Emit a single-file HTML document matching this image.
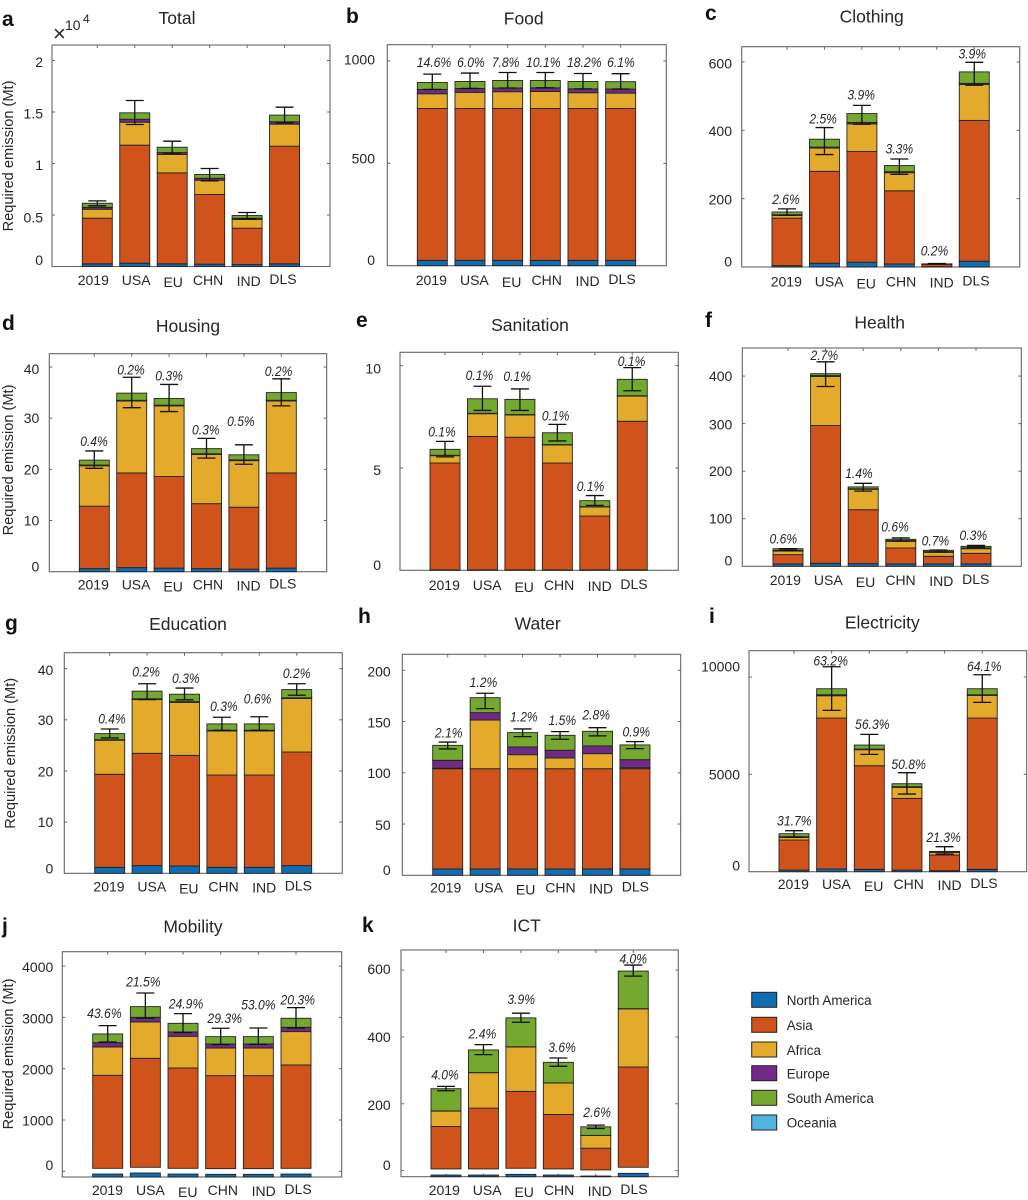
<!DOCTYPE html>
<html lang="en">
<head>
<meta charset="utf-8">
<title>Required emission by need and scenario</title>
<style>
html,body{margin:0;padding:0;background:#fff;}
svg{display:block;font-family:"Liberation Sans",Arial,sans-serif;}
text{fill:#262626;}
</style>
</head>
<body>
<svg id="chart" xmlns="http://www.w3.org/2000/svg" width="1028" height="1200" viewBox="0 0 1028 1200">
  <rect x="0" y="0" width="1028" height="1200" fill="#ffffff"/>
  <g>
    <text x="53" y="41" font-size="22">×</text>
    <text x="65" y="30" font-size="14">10</text>
    <text x="83" y="23" font-size="12">4</text>
  </g>
  <g>
    <g><rect x="751.7" y="992.3" width="25" height="15" fill="#0f6db3" stroke="#222" stroke-width="1"/><text x="786.7" y="1005" font-size="13.4">North America</text></g>
    <g><rect x="751.7" y="1017.3" width="25" height="15" fill="#d0531c" stroke="#222" stroke-width="1"/><text x="786.7" y="1030" font-size="13.4">Asia</text></g>
    <g><rect x="751.7" y="1042" width="25" height="15" fill="#e3aa2b" stroke="#222" stroke-width="1"/><text x="786.7" y="1055" font-size="13.4">Africa</text></g>
    <g><rect x="751.7" y="1065.7" width="25" height="15" fill="#722a88" stroke="#222" stroke-width="1"/><text x="786.7" y="1078.5" font-size="13.4">Europe</text></g>
    <g><rect x="751.7" y="1090.3" width="25" height="15" fill="#74a82e" stroke="#222" stroke-width="1"/><text x="786.7" y="1103" font-size="13.4">South America</text></g>
    <g><rect x="751.7" y="1115" width="25" height="15" fill="#4fb4e0" stroke="#222" stroke-width="1"/><text x="786.7" y="1127.5" font-size="13.4">Oceania</text></g>
  </g>
</svg>
<script>
const categories = ['2019', 'USA', 'EU', 'CHN', 'IND', 'DLS'];
const seriesNames = ['north-america', 'asia', 'africa', 'europe', 'south-america', 'oceania'];

const oceania = [0, 0, 0, 0, 0, 0];

const totalNorthAmerica = [260, 320, 260, 230, 190, 260];
const totalAsia = [4430, 11460, 8830, 6760, 3530, 11420];
const totalAfrica = [870, 2230, 1780, 1390, 840, 2140];
const totalEurope = [190, 290, 190, 190, 130, 230];
const totalSouthAmerica = [390, 620, 520, 360, 260, 650];
const totalHigh = [6375, 16115, 12167, 9514, 5242, 15468];
const totalLow = [5890, 13785, 11002, 8316, 4627, 13947];
const totalTicks = [0, 5000, 10000, 15000, 20000];
const totalTickLabels = ['0', '0.5', '1', '1.5', '2'];

const foodNorthAmerica = [26, 26, 26, 26, 26, 26];
const foodAsia = [742, 742, 742, 742, 742, 742];
const foodAfrica = [72, 79, 82, 83, 77, 75];
const foodEurope = [21, 19, 18, 18, 19, 20];
const foodSouthAmerica = [34, 34, 37, 36, 36, 36];
const foodHigh = [936, 941, 944, 944, 939, 938];
const foodLow = [861, 866, 868, 869, 864, 863];
const foodPercent = [14.6, 6.0, 7.8, 10.1, 18.2, 6.1];
const foodTicks = [0, 500, 1000];
const foodTickLabels = ['0', '500', '1000'];

const clothingNorthAmerica = [4, 11, 14, 9, 1, 17];
const clothingAsia = [139, 269, 324, 214, 7, 412];
const clothingAfrica = [8, 68, 81, 53, 0.5, 105];
const clothingEurope = [2, 3, 4, 3, 0.2, 3.5];
const clothingSouthAmerica = [8, 23, 26, 18, 0.5, 33.5];
const clothingHigh = [170, 408, 473, 316, 10, 599];
const clothingLow = [151, 329, 418, 271, 9, 532];
const clothingPercent = [2.6, 2.5, 3.9, 3.3, 0.2, 3.9];
const clothingTicks = [0, 200, 400, 600];
const clothingTickLabels = ['0', '200', '400', '600'];

const housingNorthAmerica = [0.6, 0.8, 0.7, 0.6, 0.5, 0.7];
const housingAsia = [12.2, 18.5, 17.9, 12.7, 12.1, 18.6];
const housingAfrica = [7.9, 14.05, 13.8, 9.6, 9.1, 14.05];
const housingEurope = [0.15, 0.15, 0.15, 0.15, 0.15, 0.15];
const housingSouthAmerica = [0.95, 1.4, 1.3, 1.0, 1.0, 1.5];
const housingHigh = [23.6, 38, 36.6, 26.05, 24.8, 37.7];
const housingLow = [20.2, 32.05, 31.3, 22.2, 21, 32.4];
const housingPercent = [0.4, 0.2, 0.3, 0.3, 0.5, 0.2];
const housingTicks = [0, 10, 20, 30, 40];
const housingTickLabels = ['0', '10', '20', '30', '40'];

const sanitationNorthAmerica = [0.02, 0.02, 0.02, 0.02, 0.02, 0.02];
const sanitationAsia = [5.22, 6.52, 6.48, 5.22, 2.63, 7.26];
const sanitationAfrica = [0.36, 1.11, 1.09, 0.88, 0.44, 1.23];
const sanitationEurope = [0.02, 0.02, 0.02, 0.02, 0.02, 0.02];
const sanitationSouthAmerica = [0.29, 0.71, 0.74, 0.58, 0.29, 0.8];
const sanitationHigh = [6.3, 8.99, 8.86, 7.13, 3.65, 9.9];
const sanitationLow = [5.54, 7.81, 7.81, 6.32, 3.17, 8.77];
const sanitationPercent = [0.1, 0.1, 0.1, 0.1, 0.1, 0.1];
const sanitationTicks = [0, 5, 10];
const sanitationTickLabels = ['0', '5', '10'];

const healthNorthAmerica = [5, 6.3, 5.6, 5, 5, 5];
const healthAsia = [19.5, 289.7, 113.4, 33.5, 16, 22.3];
const healthAfrica = [7.5, 103, 43, 14.1, 8.4, 9.7];
const healthEurope = [1.6, 2, 1, 1.4, 1.4, 1.5];
const healthSouthAmerica = [3.4, 4, 4, 2.8, 2.8, 3.5];
const healthHigh = [37, 430, 174.5, 59.6, 34.3, 44];
const healthLow = [33.6, 378, 158, 53, 30, 40];
const healthPercent = [0.6, 2.7, 1.4, 0.6, 0.7, 0.3];
const healthTicks = [0, 100, 200, 300, 400];
const healthTickLabels = ['0', '100', '200', '300', '400'];

const educationNorthAmerica = [1.17, 1.5, 1.43, 1.17, 1.17, 1.5];
const educationAsia = [18.18, 21.95, 21.62, 18.03, 18.03, 22.2];
const educationAfrica = [6.65, 10.5, 10.35, 8.6, 8.6, 10.45];
const educationEurope = [0.1, 0.15, 0.15, 0.15, 0.15, 0.15];
const educationSouthAmerica = [1.2, 1.5, 1.45, 1.25, 1.25, 1.6];
const educationHigh = [28.2, 37.05, 36.2, 30.5, 30.6, 37.05];
const educationLow = [26.45, 33.95, 33.9, 27.95, 27.95, 34.8];
const educationPercent = [0.4, 0.2, 0.3, 0.3, 0.6, 0.2];
const educationTicks = [0, 10, 20, 30, 40];
const educationTickLabels = ['0', '10', '20', '30', '40'];

const waterNorthAmerica = [6.2, 6.2, 6.2, 6.2, 6.2, 6.2];
const waterAsia = [97.8, 97.8, 97.8, 97.8, 97.8, 97.8];
const waterAfrica = [0.5, 47.5, 13.7, 10.5, 14.7, 1];
const waterEurope = [7.7, 7.2, 7.5, 7.5, 7.5, 7.8];
const waterSouthAmerica = [14.6, 14.6, 14, 14.6, 14.3, 14.4];
const waterHigh = [130, 177.6, 142.8, 140.2, 144, 130.4];
const waterLow = [123.3, 162.6, 135.3, 132.7, 136, 123.6];
const waterPercent = [2.1, 1.2, 1.2, 1.5, 2.8, 0.9];
const waterTicks = [0, 50, 100, 150, 200];
const waterTickLabels = ['0', '50', '100', '150', '200'];

const electricityNorthAmerica = [86, 137, 120, 86, 51, 120];
const electricityAsia = [1540, 7755, 5324, 3680, 805, 7772];
const electricityAfrica = [137, 1147, 822, 565, 137, 1164];
const electricityEurope = [35, 51, 34, 35, 34, 34];
const electricitySouthAmerica = [154, 309, 206, 154, 17, 309];
const electricityHigh = [2106, 10529, 7053, 5085, 1284, 10118];
const electricityLow = [1780, 8286, 6026, 3989, 907, 8697];
const electricityPercent = [31.7, 63.2, 56.3, 50.8, 21.3, 64.1];
const electricityTicks = [0, 5000, 10000];
const electricityTickLabels = ['0', '5000', '10000'];

const mobilityNorthAmerica = [58, 78, 58, 52, 52, 58];
const mobilityAsia = [1813, 2125, 1956, 1813, 1813, 2015];
const mobilityAfrica = [553, 708, 618, 539, 539, 650];
const mobilityEurope = [84, 91, 84, 78, 78, 84];
const mobilitySouthAmerica = [169, 208, 169, 143, 143, 176];
const mobilityHigh = [2840, 3476, 3074, 2788, 2794, 3190];
const mobilityLow = [2521, 2983, 2703, 2469, 2475, 2794];
const mobilityPercent = [43.6, 21.5, 24.9, 29.3, 53.0, 20.3];
const mobilityTicks = [0, 1000, 2000, 3000, 4000];
const mobilityTickLabels = ['0', '1000', '2000', '3000', '4000'];

const ictNorthAmerica = [5, 5, 7, 5, 2, 10];
const ictAsia = [127, 182, 230, 163, 65, 300];
const ictAfrica = [46, 106, 133, 94, 38, 174];
const ictEurope = [0.5, 0.5, 0.5, 0.5, 0.5, 0.5];
const ictSouthAmerica = [66.5, 67.5, 86.5, 61.5, 25.5, 112.5];
const ictHigh = [252, 377, 471, 337, 136, 615];
const ictLow = [239, 347, 444, 312, 126, 582];
const ictPercent = [4.0, 2.4, 3.9, 3.6, 2.6, 4.0];
const ictTicks = [0, 200, 400, 600];
const ictTickLabels = ['0', '200', '400', '600'];

/* ---------- layout and styling, separate from the data above ---------- */
const seriesColors = ['#0f6db3', '#d0531c', '#e3aa2b', '#722a88', '#74a82e', '#4fb4e0'];
const EDGE = '#222222';
const AXIS = '#666666';
const BAR_WIDTH = 30;
const CAP_HALF = 9;
const catNudgeX = [-4, 1.4, 1, -1.6, 1.6, -1.6];
const catNudgeY = [0, 0, 2, 0, 1, -1];

const panels = [
  { id: 'total', title: 'Total', letter: 'a', letterX: 2, letterY: 26, titleX: 177, titleY: 24,
    box: [52, 330, 45, 266.5], y0: 266.5, scale: 0.0103, c0: 97.3, dc: 37.45, catShift: 0, catGap: 13.4,
    tickRight: 43, tickDy: [-6.7, 2.3, 1.7, 1.7, 1.7],
    series: [totalNorthAmerica, totalAsia, totalAfrica, totalEurope, totalSouthAmerica, oceania],
    high: totalHigh, low: totalLow, percent: null, ticks: totalTicks, tickLabels: totalTickLabels,
    yTitle: [8, 156] },
  { id: 'food', title: 'Food', letter: 'b', letterX: 346, letterY: 23, titleX: 523.7, titleY: 24.7,
    box: [387.3, 666.3, 44.7, 265.7], y0: 265.7, scale: 0.2047, c0: 432.3, dc: 37.67, catShift: 3, catGap: 14.3,
    tickRight: 375, tickDy: [-5.7, -5, -1.7],
    series: [foodNorthAmerica, foodAsia, foodAfrica, foodEurope, foodSouthAmerica, oceania],
    high: foodHigh, low: foodLow, percent: foodPercent, ticks: foodTicks, tickLabels: foodTickLabels,
    pctDx: [1.7, 1, -2, -2, 1.3, 0.3], pctLift: [12, 11, 10.3, 10.3, 11.3, 11.7] },
  { id: 'clothing', title: 'Clothing', letter: 'c', letterX: 705, letterY: 20, titleX: 871.7, titleY: 22.7,
    box: [741.7, 1019.7, 46.7, 267], y0: 267, scale: 0.3417, c0: 787, dc: 37.45, catShift: 3.3, catGap: 14.7,
    tickRight: 732, tickDy: [-5.3, 0.7, 0.7, 1.3],
    series: [clothingNorthAmerica, clothingAsia, clothingAfrica, clothingEurope, clothingSouthAmerica, oceania],
    high: clothingHigh, low: clothingLow, percent: clothingPercent, ticks: clothingTicks, tickLabels: clothingTickLabels,
    pctDx: [-1, -1.3, -0.7, 0, -2.3, -2], pctLift: [10, 9.3, 11, 10.7, 13, 9] },
  { id: 'housing', title: 'Housing', letter: 'd', letterX: 2, letterY: 330, titleX: 188, titleY: 332,
    box: [49.3, 326.7, 353.7, 571.7], y0: 571.7, scale: 5.117, c0: 94.3, dc: 37.4, catShift: 3, catGap: 12.7,
    tickRight: 39.3, tickDy: [-5, 0, 0, 0, 2],
    series: [housingNorthAmerica, housingAsia, housingAfrica, housingEurope, housingSouthAmerica, oceania],
    high: housingHigh, low: housingLow, percent: housingPercent, ticks: housingTicks, tickLabels: housingTickLabels,
    pctDx: [-0.3, -0.7, 0, -0.7, -3, -2.7], pctLift: [10, 8, 9, 8.7, 23.7, 8],
    yTitle: [8, 460] },
  { id: 'sanitation', title: 'Sanitation', letter: 'e', letterX: 356, letterY: 327, titleX: 530, titleY: 331,
    box: [400, 678.3, 352.3, 570.3], y0: 570.3, scale: 20.47, c0: 445, dc: 37.45, catShift: 3.3, catGap: 14.7,
    tickRight: 381, tickDy: [-5.3, 2, 2.7],
    series: [sanitationNorthAmerica, sanitationAsia, sanitationAfrica, sanitationEurope, sanitationSouthAmerica, oceania],
    high: sanitationHigh, low: sanitationLow, percent: sanitationPercent, ticks: sanitationTicks, tickLabels: sanitationTickLabels,
    pctDx: [-3, -3, -2.7, -1.7, -4.3, -0.7], pctLift: [9.7, 11.3, 12.7, 8.7, 9.7, 6.7] },
  { id: 'health', title: 'Health', letter: 'f', letterX: 705, letterY: 327, titleX: 879.7, titleY: 328.3,
    box: [742.3, 1021.3, 348, 566.3], y0: 566.3, scale: 0.4756, c0: 788, dc: 37.6, catShift: 1.3, catGap: 13.7,
    tickRight: 732.3, tickDy: [-5.7, 0, 0, 0.7, 0],
    series: [healthNorthAmerica, healthAsia, healthAfrica, healthEurope, healthSouthAmerica, oceania],
    high: healthHigh, low: healthLow, percent: healthPercent, ticks: healthTicks, tickLabels: healthTickLabels,
    pctDx: [-4.7, -1.3, -4.3, -5.7, -3, -2.7], pctLift: [10.3, 6.7, 10.3, 11.3, 9.7, 10.3] },
  { id: 'education', title: 'Education', letter: 'g', letterX: 5, letterY: 630, titleX: 188, titleY: 630,
    box: [64.3, 342.3, 652.7, 873.3], y0: 873.3, scale: 5.117, c0: 109.7, dc: 37.4, catShift: 3.3, catGap: 13.3,
    tickRight: 53.3, tickDy: [-5, 0, 0.7, 0, 1.3],
    series: [educationNorthAmerica, educationAsia, educationAfrica, educationEurope, educationSouthAmerica, oceania],
    high: educationHigh, low: educationLow, percent: educationPercent, ticks: educationTicks, tickLabels: educationTickLabels,
    pctDx: [2.3, -1, 1.3, 2, -1.7, 0], pctLift: [10.7, 12, 10.3, 11.3, 18.3, 10.7],
    yTitle: [10, 753.3] },
  { id: 'water', title: 'Water', letter: 'h', letterX: 358, letterY: 623, titleX: 537.7, titleY: 629.3,
    box: [402.3, 680.7, 654.3, 875.3], y0: 875.3, scale: 1.025, c0: 447.7, dc: 37.45, catShift: 2, catGap: 12.3,
    tickRight: 390.7, tickDy: [-5.3, 0.7, 0.3, 0.7, 1.3],
    series: [waterNorthAmerica, waterAsia, waterAfrica, waterEurope, waterSouthAmerica, oceania],
    high: waterHigh, low: waterLow, percent: waterPercent, ticks: waterTicks, tickLabels: waterTickLabels,
    pctDx: [1, -1.7, 1.3, 2.3, -1.3, 1.3], pctLift: [9.7, 11.3, 12.3, 11.7, 13, 10.3] },
  { id: 'electricity', title: 'Electricity', letter: 'i', letterX: 709, letterY: 623, titleX: 882.3, titleY: 628.3,
    box: [749, 1026.7, 650.7, 871.7], y0: 871.7, scale: 0.019467, c0: 794, dc: 37.65, catShift: 3.3, catGap: 12.3,
    tickRight: 740, tickDy: [-6, 0, -10.3],
    series: [electricityNorthAmerica, electricityAsia, electricityAfrica, electricityEurope, electricitySouthAmerica, oceania],
    high: electricityHigh, low: electricityLow, percent: electricityPercent, ticks: electricityTicks, tickLabels: electricityTickLabels,
    pctDx: [0.3, -1, 3, 1.7, -1, 2], pctLift: [10, 6, 10.3, 8.7, 9.7, 8.7] },
  { id: 'mobility', title: 'Mobility', letter: 'j', letterX: 2, letterY: 933, titleX: 193, titleY: 932.7,
    box: [62.3, 341.7, 951.7, 1177], y0: 1171.3, scale: 0.0513, c0: 107.7, dc: 37.66, catShift: 3.7, catGap: 13, broken: true,
    tickRight: 53.3, tickDy: [-6.3, 0.7, 0.7, 1, 0.7],
    series: [mobilityNorthAmerica, mobilityAsia, mobilityAfrica, mobilityEurope, mobilitySouthAmerica, oceania],
    high: mobilityHigh, low: mobilityLow, percent: mobilityPercent, ticks: mobilityTicks, tickLabels: mobilityTickLabels,
    pctDx: [-3.3, -2, 3, 4, 0, 1.7], pctLift: [12.7, 11.3, 10, 10.3, 23.3, 8.3],
    yTitle: [8, 1054] },
  { id: 'ict', title: 'ICT', letter: 'k', letterX: 362, letterY: 932, titleX: 526.7, titleY: 931.7,
    box: [401, 678.3, 950, 1176.7], y0: 1170.6, scale: 0.3342, c0: 446, dc: 37.45, catShift: 2.3, catGap: 13.3, broken: true,
    tickRight: 390.7, tickDy: [-5.7, 1.3, 0, -1],
    series: [ictNorthAmerica, ictAsia, ictAfrica, ictEurope, ictSouthAmerica, oceania],
    high: ictHigh, low: ictLow, percent: ictPercent, ticks: ictTicks, tickLabels: ictTickLabels,
    pctDx: [-1, -1, 0.3, 3.7, 1.3, 0], pctLift: [11.7, 11, 14.3, 11, 13, 6.7] }
];

const NS = 'http://www.w3.org/2000/svg';
const root = document.getElementById('chart');

function addText(parent, name, str, x, y, size, anchor) {
  const el = document.createElementNS(NS, 'text');
  
  
  el.setAttribute('x', x);
  el.setAttribute('y', y);
  el.setAttribute('font-size', size);
  if (anchor) el.setAttribute('text-anchor', anchor);
  el.textContent = str;
  parent.appendChild(el);
  return el;
}

function addLine(parent, name, x1, y1, x2, y2, color, width) {
  const el = document.createElementNS(NS, 'line');
  
  
  el.setAttribute('x1', x1);
  el.setAttribute('y1', y1);
  el.setAttribute('x2', x2);
  el.setAttribute('y2', y2);
  el.setAttribute('stroke', color);
  el.setAttribute('stroke-width', width);
  parent.appendChild(el);
  return el;
}

function drawPanel(p) {
  const g = document.createElementNS(NS, 'g');
  
  
  root.appendChild(g);

  const left = p.box[0], right = p.box[1], top = p.box[2], bottom = p.box[3];
  const yScale = v => p.y0 - v * p.scale;
  const xScale = i => p.c0 + i * p.dc;

  const letter = addText(g, 'panel-letter-' + p.letter, p.letter, p.letterX, p.letterY, 21);
  letter.setAttribute('font-weight', 'bold');
  letter.style.fill = '#111';
  addText(g, 'panel-title-' + p.id, p.title, p.titleX, p.titleY, 17.5, 'middle');

  const frame = document.createElementNS(NS, 'rect');
  
  
  frame.setAttribute('x', left);
  frame.setAttribute('y', top);
  frame.setAttribute('width', right - left);
  frame.setAttribute('height', bottom - top);
  frame.setAttribute('fill', 'none');
  frame.setAttribute('stroke', AXIS);
  frame.setAttribute('stroke-width', 1.1);
  g.appendChild(frame);

  p.ticks.forEach((t, k) => {
    const y = yScale(t);
    if (y > top && y < bottom - 1) {
      addLine(g, 'y-tick-left-' + p.id, left, y, left + 3, y, AXIS, 1);
      addLine(g, 'y-tick-right-' + p.id, right - 3, y, right, y, AXIS, 1);
    }
    addText(g, 'y-tick-label-' + p.id, p.tickLabels[k], p.tickRight, y + p.tickDy[k] + 5, 14, 'end');
  });

  categories.forEach((cat, i) => {
    const cx = xScale(i);
    addLine(g, 'x-tick-top-' + p.id, cx, top, cx, top + 3, AXIS, 1);
    addLine(g, 'x-tick-bottom-' + p.id, cx, bottom - 3, cx, bottom, AXIS, 1);

    let cumulative = 0;
    p.series.forEach((values, s) => {
      const v = values[i];
      const base = cumulative;
      cumulative += v;
      if (!(v > 0)) return;
      const rect = document.createElementNS(NS, 'rect');
      
      
      rect.setAttribute('x', cx - BAR_WIDTH / 2);
      let yTop = yScale(cumulative);
      let h = v * p.scale;
      if (p.broken && s === 0) {
        /* axis break: the first segment sits on the axis line, below a white gap */
        yTop = bottom - h;
      }
      rect.setAttribute('y', yTop);
      rect.setAttribute('width', BAR_WIDTH);
      rect.setAttribute('height', h);
      rect.setAttribute('fill', seriesColors[s]);
      rect.setAttribute('stroke', EDGE);
      rect.setAttribute('stroke-width', 0.9);
      g.appendChild(rect);
    });

    const hi = yScale(p.high[i]);
    const lo = yScale(p.low[i]);
    addLine(g, 'error-bar-stem-' + p.id, cx, hi, cx, lo, '#111', 1.3);
    addLine(g, 'error-bar-cap-high-' + p.id, cx - CAP_HALF, hi, cx + CAP_HALF, hi, '#111', 1.3);
    addLine(g, 'error-bar-cap-low-' + p.id, cx - CAP_HALF, lo, cx + CAP_HALF, lo, '#111', 1.3);

    if (p.percent) {
      const label = p.percent[i].toFixed(1) + '%';
      const t = addText(g, 'percent-label-' + p.id, label, cx + p.pctDx[i], hi - p.pctLift[i] + 5, 14, 'middle');
      t.setAttribute('font-style', 'italic');
      t.setAttribute('textLength', label.length * 6.9);
      t.setAttribute('lengthAdjust', 'spacingAndGlyphs');
    }

    addText(g, 'x-tick-label-' + p.id, cat, cx + catNudgeX[i] + p.catShift, bottom + p.catGap + catNudgeY[i] + 5, 14, 'middle');
  });

  if (p.yTitle) {
    const yt = addText(g, 'y-axis-title-' + p.id, 'Required emission (Mt)', 0, 0, 14.6, 'middle');
    yt.setAttribute('transform', 'translate(' + (p.yTitle[0] + 5) + ' ' + p.yTitle[1] + ') rotate(-90)');
  }
}

panels.forEach(drawPanel);
</script>
</body>
</html>
